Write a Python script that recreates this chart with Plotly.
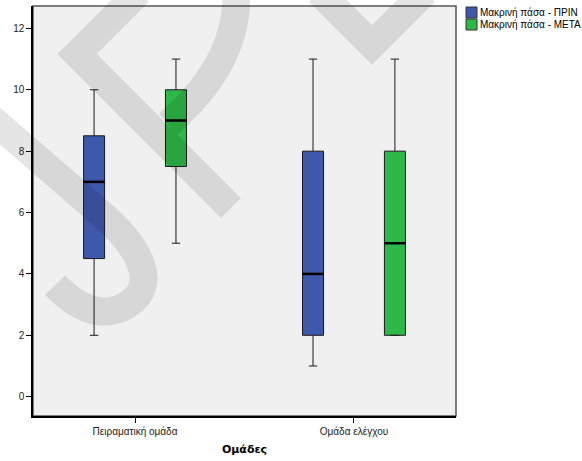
import plotly.graph_objects as go

# Data: box summaries per group and measurement
groups = ["Πειραματική ομάδα", "Ομάδα ελέγχου"]
series_names = ["Μακρινή πάσα - ΠΡΙΝ", "Μακρινή πάσα - ΜΕΤΑ"]
series_colors = ["#3E58AC", "#2EB848"]

lower_whisker = [[2, 1], [5, 2]]
q1_values = [[4.5, 2], [7.5, 2]]
median_values = [[7, 4], [9, 5]]
q3_values = [[8.5, 8], [10, 8]]
upper_whisker = [[10, 11], [11, 11]]

y_ticks = [0, 2, 4, 6, 8, 10, 12]

# Layout geometry (pixels)
FIG_W, FIG_H = 582, 461
M_L, M_T, M_R, M_B = 33, 6, 126, 45
PW, PH = FIG_W - M_L - M_R, FIG_H - M_T - M_B


def px(x):
    return (x - M_L) / PW


def py(y):
    return (M_T + PH - y) / PH


offsets = [-0.187, 0.187]
box_w = 0.096

fig = go.Figure()

for s, name in enumerate(series_names):
    for g in range(len(groups)):
        pos = g + offsets[s]
        fig.add_trace(go.Box(
            x=[pos],
            q1=[q1_values[s][g]],
            median=[median_values[s][g]],
            q3=[q3_values[s][g]],
            lowerfence=[lower_whisker[s][g]],
            upperfence=[upper_whisker[s][g]],
            width=box_w,
            whiskerwidth=0.4,
            fillcolor=series_colors[s],
            line=dict(color="#1a1a1a", width=1),
            boxpoints=False,
            showlegend=False,
            hoverinfo="skip",
        ))
        # heavier median stroke
        fig.add_trace(go.Scatter(
            x=[pos - box_w / 2, pos + box_w / 2],
            y=[median_values[s][g]] * 2,
            mode="lines",
            line=dict(color="#000000", width=2.5),
            showlegend=False,
            hoverinfo="skip",
        ))


def path_from(subpaths):
    parts = []
    for sp in subpaths:
        cmd = []
        for item in sp:
            if isinstance(item, str):
                cmd.append(item)
            else:
                cmd.append(f"{px(item[0]):.4f},{py(item[1]):.4f}")
        parts.append(" ".join(cmd))
    return " ".join(parts)


# watermark strokes drawn over the panel
watermark = path_from([
    ["M", (-15, 113), "L", (98, 211), "C", (140, 246), (160, 285), (127, 305),
     "C", (100, 321), (74, 305), (55, 285)],
    ["M", (139, -8), "L", (77, 54), "L", (231, 208)],
    ["M", (168, 124), "Q", (240, 62), (236, -10)],
    ["M", (319, -8), "L", (372, 45), "L", (425, -8)],
])

shapes = [
    dict(type="rect", xref="paper", yref="paper", x0=0, x1=1, y0=0, y1=1,
         line=dict(color="#555555", width=1.5), layer="below"),
    dict(type="path", xref="paper", yref="paper", path=watermark,
         line=dict(color="rgba(0,0,0,0.1)", width=28), layer="above"),
]

annotations = []
for s, name in enumerate(series_names):
    top = 7 + 12 * s
    shapes.append(dict(type="rect", xref="paper", yref="paper",
                       x0=px(466), x1=px(477), y0=py(top + 11), y1=py(top),
                       fillcolor=series_colors[s],
                       line=dict(color="#333333", width=1)))
    annotations.append(dict(xref="paper", yref="paper", x=px(478), y=py(top + 5.5),
                            text=name, showarrow=False, xanchor="left", yanchor="middle",
                            font=dict(family="Liberation Sans, Arial", size=10, color="#000")))

fig.update_layout(
    width=FIG_W, height=FIG_H,
    margin=dict(l=M_L, r=M_R, t=M_T, b=M_B, autoexpand=False),
    paper_bgcolor="#ffffff",
    plot_bgcolor="#f0f0f0",
    showlegend=False,
    shapes=shapes,
    annotations=annotations,
    font=dict(family="Liberation Sans, Arial", size=10, color="#222"),
    xaxis=dict(
        range=[-0.466, 1.466],
        tickvals=[0, 1],
        ticktext=groups,
        ticks="outside", ticklen=5, tickcolor="#000", tickwidth=1,
        showgrid=False, zeroline=False,
        showline=True, linecolor="#000", linewidth=1.5,
        tickfont=dict(size=10, color="#222"),
        title=dict(text="<b>Ομάδες</b>", standoff=10,
                   font=dict(family="DejaVu Sans", size=11, color="#000")),
    ),
    yaxis=dict(
        range=[-0.63, 12.73],
        tickvals=y_ticks,
        ticks="outside", ticklen=5, tickcolor="#000", tickwidth=1,
        showgrid=False, zeroline=False,
        showline=True, linecolor="#000", linewidth=1.5,
        tickfont=dict(size=10, color="#222"),
    ),
)

fig.write_html("out.html")
